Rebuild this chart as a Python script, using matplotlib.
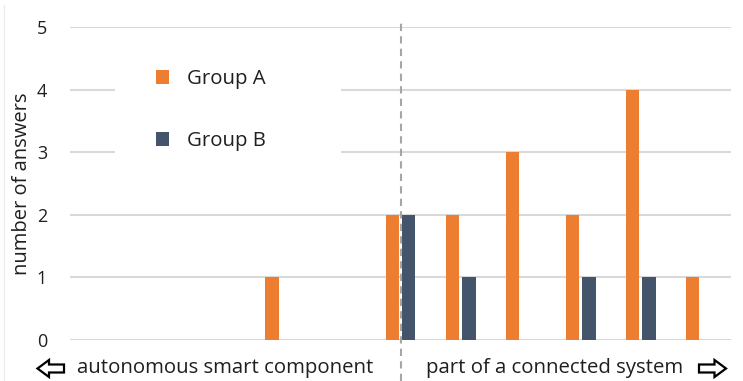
import numpy as np
import matplotlib.pyplot as plt
from matplotlib.patches import Rectangle, Patch, Polygon
from matplotlib.lines import Line2D

# Answer counts per scale position (0 = autonomous ... 10 = connected)
positions = np.arange(11)
group_a = [0, 0, 0, 1, 0, 2, 2, 3, 2, 4, 1]
group_b = [0, 0, 0, 0, 0, 2, 1, 0, 1, 1, 0]
series_names = ["Group A", "Group B"]
y_ticks = [0, 1, 2, 3, 4, 5]
left_label = "autonomous smart component"
right_label = "part of a connected system"

ORANGE = "#ED7D31"
SLATE = "#44546A"
GRID = "#d9d9d9"
TEXT = "#1f1f1f"

plt.rcParams["font.family"] = ["Open Sans", "DejaVu Sans"]

W, H = 743, 381
fig = plt.figure(figsize=(W / 100, H / 100), dpi=100)
ax = fig.add_axes([70 / W, 1 - 340 / H, 661 / W, 313 / H])

bar_w = 0.225
off = 0.137
ax.bar(positions - off, group_a, width=bar_w, color=ORANGE, zorder=2)
ax.bar(positions + off, group_b, width=bar_w, color=SLATE, zorder=2)

ax.set_xlim(-0.5, 10.5)
ax.set_ylim(0, 5)
ax.set_yticks(y_ticks)
ax.set_xticks([])
ax.grid(axis="y", color=GRID, linewidth=1.5)
ax.set_axisbelow(True)
for s in ax.spines.values():
    s.set_visible(False)
ax.tick_params(axis="y", length=0, pad=16.5, labelsize=13, labelcolor=TEXT)

ax.set_ylabel("number of answers", fontsize=14.5, color=TEXT)
ax.yaxis.set_label_coords(-0.0575, 0.5)

# dashed divider through the middle position
ax.plot([5, 5], [-0.66, 5.065], color="#a6a6a6", linestyle=(0, (3.5, 2.5)),
        linewidth=1.5, clip_on=False, zorder=3)

# white panel behind the legend
ax.add_patch(Rectangle((0.068, 0.447), 0.342, 0.511, transform=ax.transAxes,
                       facecolor="white", edgecolor="none", zorder=1))
handles = [Patch(facecolor=ORANGE), Patch(facecolor=SLATE)]
fig.legend(handles, series_names, loc="center left",
           bbox_to_anchor=(156 / W, 1 - 110 / H), frameon=False,
           fontsize=14.7, handlelength=0.65, handleheight=0.65,
           handletextpad=0.88, labelspacing=2.05, borderpad=0,
           borderaxespad=0, labelcolor=TEXT)

# bottom scale labels with hollow arrows
fig.text(77 / W, 1 - 368 / H, left_label, fontsize=14.7, color=TEXT,
         ha="left", va="center")
fig.text(683 / W, 1 - 368 / H, right_label, fontsize=14.7, color=TEXT,
         ha="right", va="center")


def hollow_arrow(tip_x, tail_x, yc, head_len=11.5, head_h=17, tail_h=8):
    d = 1 if tail_x > tip_x else -1
    hx = tip_x + d * head_len
    pts = [(tip_x, yc), (hx, yc - head_h / 2), (hx, yc - tail_h / 2),
           (tail_x, yc - tail_h / 2), (tail_x, yc + tail_h / 2),
           (hx, yc + tail_h / 2), (hx, yc + head_h / 2)]
    pts = [(x / W, 1 - y / H) for x, y in pts]
    fig.add_artist(Polygon(pts, closed=True, facecolor="white",
                           edgecolor="black", linewidth=1.6,
                           joinstyle="miter"))


hollow_arrow(37.5, 64, 368.5)
hollow_arrow(726, 699, 368.5)

fig.add_artist(Line2D([3.5 / W, 3.5 / W], [0, 1 - 5 / H], color="#ececec",
                      linewidth=1))

fig.savefig("out.png", dpi=100, facecolor="white")
